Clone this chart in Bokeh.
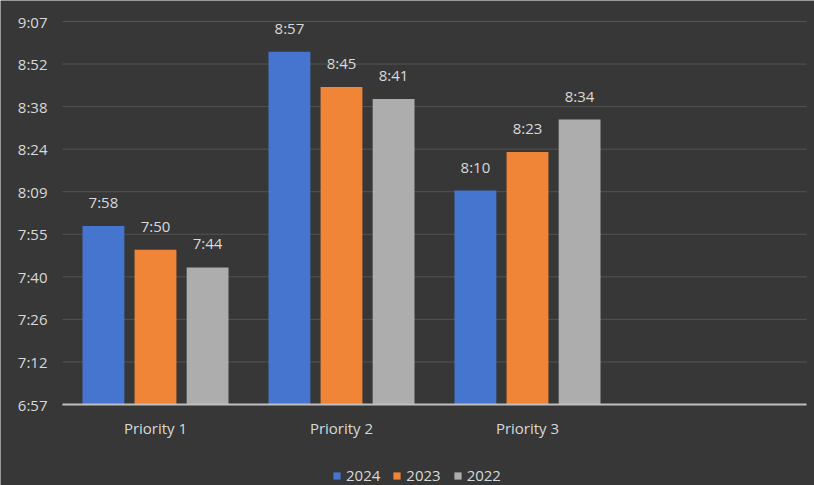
from bokeh.plotting import figure
from bokeh.models import (ColumnDataSource, Range1d, FixedTicker,
                          CustomJSTickFormatter, LabelSet, Legend, LegendItem)
from bokeh.core.properties import value
from bokeh.embed import file_html
from bokeh.resources import INLINE

# ---- data ----
categories = ["Priority 1", "Priority 2", "Priority 3"]
series_names = ["2024", "2023", "2022"]
times_2024 = ["7:58", "8:57", "8:10"]
times_2023 = ["7:50", "8:45", "8:23"]
times_2022 = ["7:44", "8:41", "8:34"]
# axis in fraction of a day (Excel style time axis)
y_min = 0.29
y_max = 0.38
y_ticks = [0.29, 0.30, 0.31, 0.32, 0.33, 0.34, 0.35, 0.36, 0.37, 0.38]
n_slots = 4  # category slots on the axis (last one empty)

colors = ["#4675D0", "#F08437", "#ADADAD"]
FONT = "Open Sans"
TXT = "#d9d9d9"
BG = "#373737"
GRID = "#545454"

# ---- layout (pixels) ----
W, H = 814, 485
LEFT, RIGHT = 62, 806      # plot area x extent
TOP, AXIS_Y = 21, 404      # y of top gridline and of baseline


def to_day(t):
    h, m = t.split(":")
    return (int(h) * 60 + int(m)) / 1440.0


# the frame covers the whole canvas; ranges are set so that the plot area
# lands on the pixel rectangle above
xu = (RIGHT - LEFT) / n_slots
x_start, x_end = -LEFT / xu, n_slots + (W - RIGHT) / xu
yu = (AXIS_Y - TOP) / (y_max - y_min)
y_start, y_end = y_min - (H - AXIS_Y) / yu, y_max + TOP / yu

idx = list(range(len(categories)))
offsets = [-0.28, 0.0, 0.28]
series_times = [times_2024, times_2023, times_2022]

p = figure(width=W, height=H, output_backend="svg", toolbar_location=None,
           x_range=Range1d(x_start, x_end), y_range=Range1d(y_start, y_end),
           min_border_left=0, min_border_right=0, min_border_top=0,
           min_border_bottom=0)
p.background_fill_color = BG
p.border_fill_color = BG
p.outline_line_color = None

# gridlines (limited to the plot area)
p.xgrid.grid_line_color = None
p.ygrid.grid_line_color = None
p.segment(x0=[0] * len(y_ticks), x1=[n_slots] * len(y_ticks), y0=y_ticks, y1=y_ticks,
          line_color=GRID, line_width=1)

renderers = []
for name, col, off, times in zip(series_names, colors, offsets, series_times):
    src = ColumnDataSource(dict(
        x=[i + 0.5 + off for i in idx],
        top=[to_day(t) for t in times],
        base=[y_min] * len(idx),
        lab=times,
    ))
    r = p.vbar(x="x", top="top", bottom="base", width=0.225, source=src,
               fill_color=col, line_color=None)
    renderers.append(r)
    p.add_layout(LabelSet(x="x", y="top", text="lab", source=src,
                          text_align="center", text_baseline="alphabetic",
                          y_offset=18, text_color=TXT, text_font=value(FONT),
                          text_font_size="15px"))

# y axis (drawn at the left edge of the plot area)
p.yaxis.fixed_location = 0
p.yaxis.ticker = FixedTicker(ticks=y_ticks)
p.yaxis.formatter = CustomJSTickFormatter(code="""
    const m = Math.floor(tick * 1440 + 1e-6);
    const h = Math.floor(m / 60);
    const mm = m % 60;
    return h + ":" + (mm < 10 ? "0" : "") + mm;
""")
p.yaxis.axis_line_color = None
p.yaxis.major_tick_line_color = None
p.yaxis.minor_tick_line_color = None
p.yaxis.major_tick_out = 0
p.yaxis.major_label_standoff = 15
p.yaxis.major_label_text_color = TXT
p.yaxis.major_label_text_font = FONT
p.yaxis.major_label_text_font_size = "15px"

# x axis (category labels) on the baseline
p.xaxis.fixed_location = y_min
p.xaxis.bounds = (0, n_slots)
p.xaxis.ticker = FixedTicker(ticks=[i + 0.5 for i in idx])
p.xaxis.formatter = CustomJSTickFormatter(args=dict(cats=categories), code="""
    const i = Math.floor(tick);
    return (i >= 0 && i < cats.length) ? cats[i] : "";
""")
p.xaxis.axis_line_color = "#c0c0c0"
p.xaxis.axis_line_width = 2
p.xaxis.major_tick_line_color = None
p.xaxis.minor_tick_line_color = None
p.xaxis.major_tick_out = 0
p.xaxis.major_label_standoff = 13
p.xaxis.major_label_text_color = TXT
p.xaxis.major_label_text_font = FONT
p.xaxis.major_label_text_font_size = "15px"

legend = Legend(items=[LegendItem(label=n, renderers=[r]) for n, r in zip(series_names, renderers)],
                orientation="horizontal", location=(332, 0),
                glyph_width=9, glyph_height=9, label_standoff=5, spacing=12,
                padding=0, margin=0, border_line_color=None,
                background_fill_alpha=0, label_text_color=TXT,
                label_text_font=FONT, label_text_font_size="15px")
p.add_layout(legend, "center")

open("out.html", "w").write(file_html(p, INLINE))
